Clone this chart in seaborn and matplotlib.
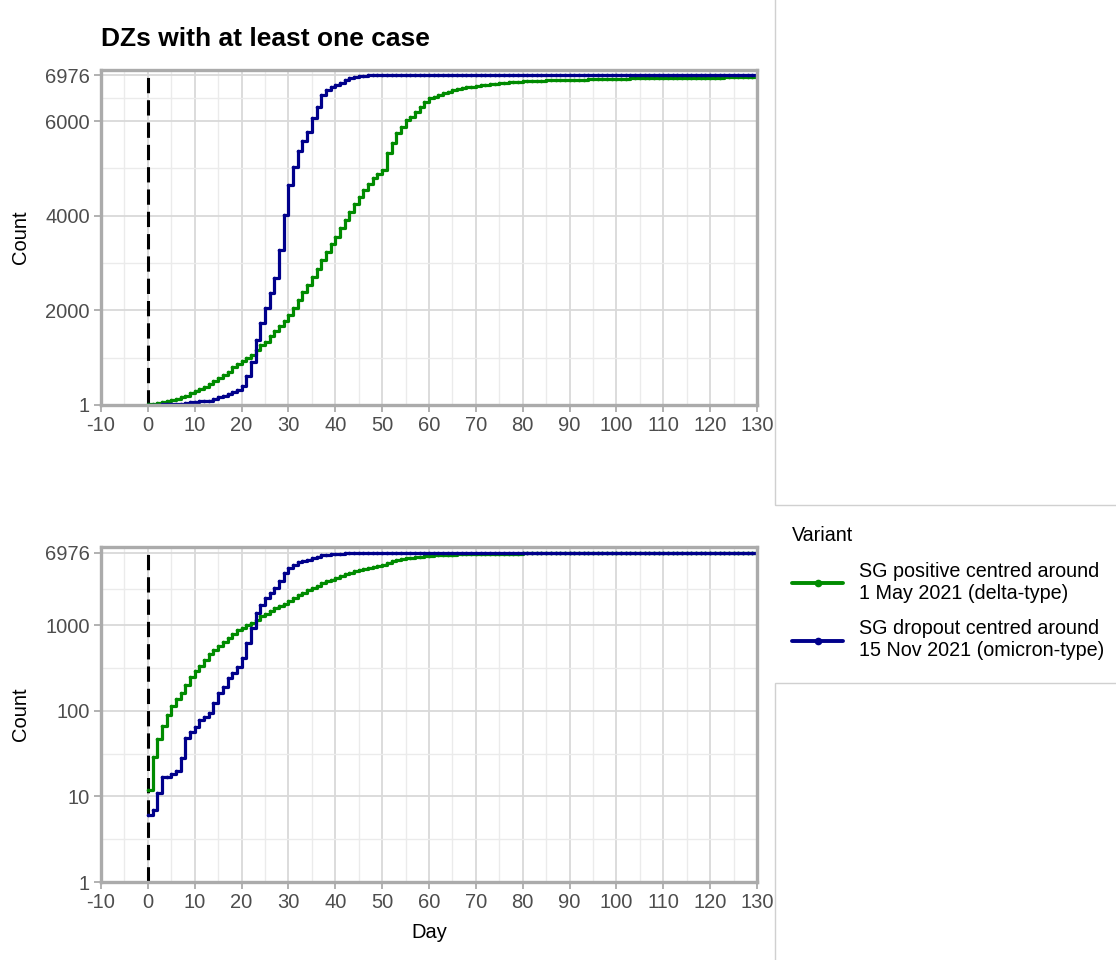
import numpy as np
import pandas as pd
import seaborn as sns
import matplotlib.pyplot as plt
from matplotlib.patches import Rectangle
from matplotlib.lines import Line2D
from matplotlib.ticker import FixedLocator, NullFormatter

# cumulative DZs with at least one case, by day since the centre date
days = list(range(0, 131))
delta_counts = [
    12, 29, 47, 66, 89, 114, 136, 162, 199, 250,
    290, 334, 390, 454, 509, 567, 635, 708, 795, 870,
    935, 1000, 1060, 1160, 1260, 1340, 1450, 1570, 1680, 1780,
    1900, 2050, 2220, 2380, 2540, 2713, 2880, 3065, 3230, 3400,
    3560, 3740, 3910, 4080, 4250, 4400, 4545, 4670, 4790, 4880,
    4970, 5320, 5530, 5745, 5885, 6025, 6095, 6200, 6306, 6400,
    6484, 6520, 6554, 6590, 6625, 6655, 6680, 6700, 6715, 6730,
    6745, 6755, 6765, 6780, 6790, 6800, 6810, 6820, 6830, 6838,
    6845, 6850, 6853, 6856, 6859, 6862, 6864, 6866, 6868, 6870,
    6872, 6875, 6878, 6880, 6883, 6885, 6888, 6890, 6892, 6894,
    6896, 6898, 6900, 6903, 6905, 6906, 6907, 6908, 6909, 6910,
    6911, 6912, 6913, 6914, 6915, 6916, 6917, 6918, 6919, 6920,
    6921, 6922, 6923, 6924, 6925, 6926, 6927, 6928, 6929, 6930,
    6931,
]
omicron_counts = [
    6, 7, 11, 17, 17, 18, 20, 28, 48, 57,
    65, 78, 85, 94, 123, 160, 190, 240, 275, 325,
    410, 615, 920, 1380, 1730, 2050, 2370, 2680, 3280, 4020,
    4650, 5040, 5380, 5590, 5780, 6060, 6310, 6550, 6650, 6715,
    6765, 6815, 6870, 6920, 6940, 6955, 6962, 6966, 6968, 6969,
    6970, 6970, 6971, 6971, 6971, 6972, 6972, 6972, 6972, 6972,
    6973, 6973, 6973, 6973, 6973, 6973, 6973, 6973, 6973, 6973,
    6974, 6974, 6974, 6974, 6974, 6974, 6974, 6974, 6974, 6974,
    6974, 6974, 6974, 6974, 6974, 6974, 6974, 6974, 6974, 6974,
    6975, 6975, 6975, 6975, 6975, 6975, 6975, 6975, 6975, 6975,
    6975, 6975, 6975, 6975, 6975, 6975, 6975, 6975, 6975, 6975,
    6975, 6975, 6975, 6975, 6975, 6975, 6975, 6975, 6975, 6975,
    6976, 6976, 6976, 6976, 6976, 6976, 6976, 6976, 6976, 6976,
    6976,
]
variants = ['SG positive centred around\n1 May 2021 (delta-type)',
            'SG dropout centred around\n15 Nov 2021 (omicron-type)']
colours = ['#008B00', '#00008B']
total_dz = 6976
x_ticks = list(range(-10, 131, 10))
lin_ticks = [1, 2000, 4000, 6000, 6976]
log_ticks = [1, 10, 100, 1000, 6976]

df = pd.concat([
    pd.DataFrame({'Day': days, 'Count': delta_counts, 'Variant': variants[0]}),
    pd.DataFrame({'Day': days, 'Count': omicron_counts, 'Variant': variants[1]}),
])
palette = dict(zip(variants, colours))

sns.set_theme(style='white')
plt.rcParams['font.family'] = ['Liberation Sans', 'DejaVu Sans']
plt.rcParams['text.color'] = 'black'
fs = 14.5

fig = plt.figure(figsize=(11.16, 9.6), dpi=100)
ax1 = fig.add_axes([101/1116, 1-405/960, 656/1116, 335/960])
ax2 = fig.add_axes([101/1116, 1-882/960, 656/1116, 335/960])

border = '#ABABAB'
for ax, logscale in [(ax1, False), (ax2, True)]:
    sns.lineplot(data=df, x='Day', y='Count', hue='Variant', palette=palette,
                 hue_order=variants, estimator=None, drawstyle='steps-post',
                 marker='o', markersize=2.6, markeredgewidth=0, linewidth=2.3,
                 ax=ax, legend=False)
    ax.set_xlim(-10, 130)
    ax.set_xticks(x_ticks)
    ax.set_xticklabels([str(t) for t in x_ticks])
    ax.xaxis.set_minor_locator(FixedLocator(np.arange(-5, 130, 10)))
    if logscale:
        ax.set_yscale('log')
        ax.set_ylim(1, 8150)
        ax.set_yticks(log_ticks)
        ax.set_yticklabels([str(t) for t in log_ticks])
        mids = [np.sqrt(a * b) for a, b in zip(log_ticks[:-1], log_ticks[1:])]
        ax.yaxis.set_minor_locator(FixedLocator(mids))
        ax.yaxis.set_minor_formatter(NullFormatter())
    else:
        ax.set_ylim(1, 7082)
        ax.set_yticks(lin_ticks)
        ax.set_yticklabels([str(t) for t in lin_ticks])
        mids = [(a + b) / 2 for a, b in zip(lin_ticks[:-1], lin_ticks[1:])]
        ax.yaxis.set_minor_locator(FixedLocator(mids))
    ax.plot([0, 0], [1, total_dz], color='black', lw=2.2,
            linestyle=(0, (5.0, 2.3)), zorder=1)
    ax.set_axisbelow(True)
    ax.grid(which='major', color='#D9D9D9', lw=1.3)
    ax.grid(which='minor', color='#EBEBEB', lw=1.0)
    ax.tick_params(which='major', length=5, width=1.3, color=border,
                   labelsize=fs, labelcolor='#4D4D4D', pad=3,
                   bottom=True, left=True)
    ax.tick_params(which='minor', length=0)
    for s in ax.spines.values():
        s.set_color(border)
        s.set_linewidth(2.4)
    ax.set_ylabel('Count', fontsize=fs, color='black')
    ax.yaxis.set_label_coords(-0.108, 0.5)

ax1.set_xlabel('')
ax2.set_xlabel('Day', fontsize=fs, color='black', labelpad=8)
ax1.set_title('DZs with at least one case', loc='left', fontsize=19,
              fontweight='bold', color='black', pad=17)

handles = [Line2D([], [], color=c, lw=2.8, marker='o', markersize=5.5,
                  markeredgewidth=0) for c in colours]
leg = fig.legend(handles, variants, title='Variant', loc='upper left',
                 bbox_to_anchor=(784/1116, 1-518/960), frameon=False,
                 fontsize=14.2, title_fontsize=14.2, handlelength=2.6,
                 labelspacing=0.85, alignment='left', borderaxespad=0,
                 handletextpad=0.8, labelcolor='black')
leg.get_title().set_color('black')

# empty side frames
fig.patches.append(Rectangle((775/1116, 1-505/960), 0.4, 0.6, transform=fig.transFigure,
                             fill=False, edgecolor='#D0D0D0', lw=1))
fig.patches.append(Rectangle((775/1116, -0.1), 0.4, 0.1 + (1-683/960), transform=fig.transFigure,
                             fill=False, edgecolor='#D0D0D0', lw=1))

fig.savefig('out.png', dpi=100)
